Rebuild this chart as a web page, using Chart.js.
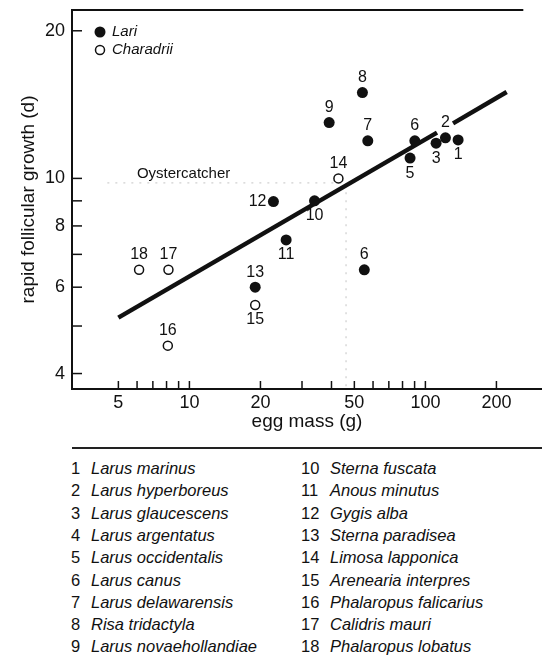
<!DOCTYPE html>
<html><head><meta charset="utf-8">
<script src="https://cdn.jsdelivr.net/npm/chart.js@4/dist/chart.umd.min.js"></script>
<style>
html,body{margin:0;padding:0;background:#fff;}
#wrap{position:relative;width:542px;height:656px;overflow:hidden;font-family:"Liberation Sans",Arial,sans-serif;color:#111;}
#c{position:absolute;left:0;top:0;}
#rule{position:absolute;left:72px;right:0;top:447px;height:0;border-top:2px solid #222;}
.item{position:absolute;font-size:16.5px;line-height:20px;white-space:nowrap;}
.name{font-style:italic;}
</style></head>
<body><div id="wrap"><canvas id="c" width="542" height="445"></canvas><div id="rule"></div><div id="list"></div></div>
<script>
// ---- data ----
const lariLabels   = ['1','2','3','5','6','6','7','8','9','10','11','12','13'];
const lariEggMass  = [137.6, 121.6, 111, 86.1, 90.2, 55.1, 57.0, 54.1, 39.1, 33.9, 25.7, 22.7, 19.0];
const lariGrowth   = [11.98, 12.1, 11.8, 11.0, 11.93, 6.51, 11.93, 14.96, 13.0, 9.0, 7.49, 8.97, 6.0];
const lariLabelSide = ['below','above','below','below','above','above','above','above','above','below','below','left','above'];

const charLabels   = ['14','15','16','17','18'];
const charEggMass  = [42.8, 19.0, 8.1, 8.15, 6.12];
const charGrowth   = [10.0, 5.52, 4.56, 6.51, 6.51];
const charLabelSide = ['above','below','above','above','above'];

const fitLowEggMass  = [5, 112];
const fitLowGrowth   = [5.2, 12.4];
const fitHighEggMass = [131, 221];
const fitHighGrowth  = [12.95, 15.0];

const oysterEggMass = [4.49, 46.1, 46.1];
const oysterGrowth  = [9.79, 9.79, 3.72];
const oysterLabel   = 'Oystercatcher';
const oysterLabelAt = [9.45, 10.2];

const eggMassTicks  = [5, 10, 20, 50, 100, 200];
const eggMassMinor  = [6, 7, 8, 9, 30, 40, 60, 70, 80, 90];
const growthTicks   = [4, 6, 8, 10, 20];
const growthMinor   = [5, 7, 9];
const eggMassRange  = [3.18, 312];
const growthRange   = [3.72, 22.05];
const frameTopEnd   = 260;

const seriesNames = ['Lari', 'Charadrii'];
const speciesNumbers = ['1','2','3','4','5','6','7','8','9','10','11','12','13','14','15','16','17','18'];
const speciesNames = ['Larus marinus','Larus hyperboreus','Larus glaucescens','Larus argentatus','Larus occidentalis','Larus canus','Larus delawarensis','Risa tridactyla','Larus novaehollandiae','Sterna fuscata','Anous minutus','Gygis alba','Sterna paradisea','Limosa lapponica','Arenearia interpres','Phalaropus falicarius','Calidris mauri','Phalaropus lobatus'];

// ---- species list ----
const list = document.getElementById('list');
speciesNames.forEach((n, i) => {
  const col = i < 9 ? 0 : 1, r = i % 9;
  const top = 458 + r * 22.3;
  const num = document.createElement('div');
  num.className = 'item'; num.textContent = speciesNumbers[i];
  num.style.left = (col ? 301 : 71) + 'px'; num.style.top = top + 'px';
  const nm = document.createElement('div');
  nm.className = 'item name'; nm.textContent = n;
  nm.style.left = (col ? 330 : 91) + 'px'; nm.style.top = top + 'px';
  list.appendChild(num); list.appendChild(nm);
});

const FONT = '"Liberation Sans", Arial, sans-serif';
Chart.defaults.font.family = FONT;
Chart.defaults.color = '#111';

const pts = (xs, ys) => xs.map((x, i) => ({x, y: ys[i]}));

const decorPlugin = {
  id: 'decor',
  afterDatasetsDraw(chart) {
    const ctx = chart.ctx, xs = chart.scales.x, ys = chart.scales.y, a = chart.chartArea;
    ctx.save();
    // top frame
    ctx.strokeStyle = '#111'; ctx.lineWidth = 2;
    ctx.beginPath(); ctx.moveTo(a.left, a.top); ctx.lineTo(xs.getPixelForValue(frameTopEnd), a.top); ctx.stroke();
    // inward tick marks
    ctx.lineWidth = 1.5;
    eggMassTicks.concat(eggMassMinor).forEach(v => {
      const p = xs.getPixelForValue(v);
      ctx.beginPath(); ctx.moveTo(p, a.bottom); ctx.lineTo(p, a.bottom - 8); ctx.stroke();
    });
    growthTicks.concat(growthMinor).forEach(v => {
      const p = ys.getPixelForValue(v);
      ctx.beginPath(); ctx.moveTo(a.left, p); ctx.lineTo(a.left + 10, p); ctx.stroke();
    });
    // point labels
    ctx.fillStyle = '#111';
    ctx.font = '16px ' + FONT;
    ctx.textBaseline = 'middle';
    const groups = [[lariEggMass, lariGrowth, lariLabels, lariLabelSide], [charEggMass, charGrowth, charLabels, charLabelSide]];
    groups.forEach(([gx, gy, gl, gs]) => {
      gx.forEach((xv, i) => {
        const px = xs.getPixelForValue(xv), py = ys.getPixelForValue(gy[i]);
        if (gs[i] === 'left') { ctx.textAlign = 'right'; ctx.fillText(gl[i], px - 7, py); }
        else { ctx.textAlign = 'center'; ctx.fillText(gl[i], px, gs[i] === 'above' ? py - 15 : py + 15); }
      });
    });
    // oystercatcher label
    ctx.font = '15px ' + FONT;
    ctx.textAlign = 'center';
    ctx.fillText(oysterLabel, xs.getPixelForValue(oysterLabelAt[0]), ys.getPixelForValue(oysterLabelAt[1]));
    // legend
    const lx = a.left + 28, ly = [a.top + 22, a.top + 40];
    ctx.beginPath(); ctx.arc(lx, ly[0], 5.5, 0, Math.PI * 2); ctx.fillStyle = '#111'; ctx.fill();
    ctx.beginPath(); ctx.arc(lx, ly[1], 4.5, 0, Math.PI * 2); ctx.fillStyle = '#fff'; ctx.fill();
    ctx.strokeStyle = '#111'; ctx.lineWidth = 1.5; ctx.stroke();
    ctx.fillStyle = '#111'; ctx.textAlign = 'left';
    ctx.font = 'italic 15px ' + FONT;
    ctx.fillText(seriesNames[0], lx + 12, ly[0]);
    ctx.fillText(seriesNames[1], lx + 12, ly[1]);
    ctx.restore();
  }
};

new Chart(document.getElementById('c'), {
  type: 'scatter',
  data: {
    datasets: [
      {label: 'fit', data: pts(fitLowEggMass, fitLowGrowth), showLine: true, borderColor: '#111', borderWidth: 4.5, pointRadius: 0, order: 2},
      {label: 'fit2', data: pts(fitHighEggMass, fitHighGrowth), showLine: true, borderColor: '#111', borderWidth: 4.5, pointRadius: 0, order: 2},
      {label: 'oyster', data: pts(oysterEggMass, oysterGrowth), showLine: true, borderColor: '#c4c4c4', borderWidth: 1, borderDash: [2, 6], pointRadius: 0, order: 3},
      {label: seriesNames[0], data: pts(lariEggMass, lariGrowth), pointRadius: 5.5, backgroundColor: '#111', borderColor: '#111', borderWidth: 0, order: 0},
      {label: seriesNames[1], data: pts(charEggMass, charGrowth), pointRadius: 4.5, backgroundColor: '#fff', borderColor: '#111', borderWidth: 1.5, order: 0}
    ]
  },
  options: {
    responsive: false,
    animation: false,
    devicePixelRatio: 1,
    layout: {autoPadding: false, padding: {top: 10, left: 0, right: 0, bottom: 0}},
    plugins: {legend: {display: false}, tooltip: {enabled: false}},
    scales: {
      x: {
        type: 'logarithmic', min: eggMassRange[0], max: eggMassRange[1],
        afterBuildTicks: s => { s.ticks = eggMassTicks.map(v => ({value: v})); },
        afterFit: s => { s.height = 56; s.paddingLeft = 0; s.paddingRight = 0; },
        ticks: {callback: v => String(v), font: {size: 18}, color: '#111', padding: 3, maxRotation: 0, autoSkip: false},
        grid: {display: true, drawOnChartArea: false, drawTicks: false},
        border: {display: true, color: '#111', width: 2},
        title: {display: true, text: 'egg mass (g)', font: {size: 19}, color: '#111', padding: {top: 0, bottom: 12}}
      },
      y: {
        type: 'logarithmic', min: growthRange[0], max: growthRange[1],
        afterBuildTicks: s => { s.ticks = growthTicks.map(v => ({value: v})); },
        afterFit: s => { s.width = 72; s.paddingTop = 0; s.paddingBottom = 0; },
        ticks: {callback: v => String(v), font: {size: 18}, color: '#111', padding: 7, autoSkip: false},
        grid: {display: true, drawOnChartArea: false, drawTicks: false},
        border: {display: true, color: '#111', width: 2},
        title: {display: true, text: 'rapid follicular growth (d)', font: {size: 19}, color: '#111', padding: {top: 17, bottom: 0}}
      }
    }
  },
  plugins: [decorPlugin]
});
</script>
</body></html>
